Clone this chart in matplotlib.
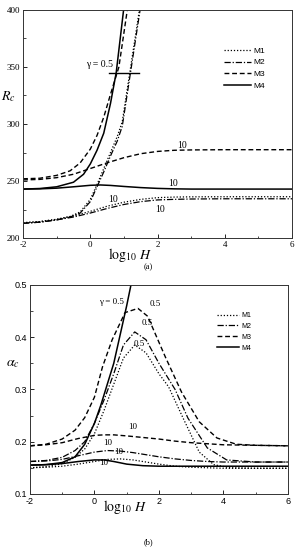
import matplotlib
matplotlib.use("Agg")
import matplotlib.pyplot as plt
from matplotlib.ticker import MultipleLocator

plt.rcParams['axes.unicode_minus'] = False
plt.rcParams['font.family'] = ['Liberation Serif', 'DejaVu Serif']
plt.rcParams['mathtext.fontset'] = 'stix'

# ---- panel (a): Rc vs log10 H ----
a_m4_g05_x = [-2, -1.5, -1, -0.5, -0.2, 0, 0.2, 0.4, 0.6, 0.77, 0.99]
a_m4_g05_y = [243, 243.5, 245, 249, 256, 265, 277, 292, 318, 345, 400]
a_m4_g10_x = [-2, -1.5, -1, -0.5, 0, 0.3, 0.6, 1, 1.5, 2, 2.5, 3, 4, 6]
a_m4_g10_y = [243, 243.2, 243.8, 245, 246.3, 246.6, 246.2, 245.3, 244.3, 243.6, 243.2, 243, 243, 243]

a_m3_g05_x = [-2, -1.5, -1, -0.6, -0.3, 0, 0.2, 0.4, 0.6, 0.85, 1.1]
a_m3_g05_y = [252, 252.5, 255, 259, 266, 278, 290, 306, 326, 350, 400]
a_m3_g10_x = [-2, -1.5, -1, -0.5, 0, 0.5, 1, 1.5, 2, 2.5, 3, 4, 6]
a_m3_g10_y = [251, 251.5, 253, 256, 261, 266, 270.5, 274, 276, 277, 277.3, 277.5, 277.5]

a_m2_g05_x = [-2, -1.5, -1, -0.6, -0.3, 0, 0.2, 0.4, 0.6, 0.8, 0.95, 1.2, 1.48]
a_m2_g05_y = [213, 214, 216, 218.5, 222, 232, 245, 258, 272, 285, 298, 346, 400]
a_m1_g05_x = [-2, -1.5, -1, -0.6, -0.3, 0, 0.2, 0.4, 0.6, 0.8, 0.95, 1.2, 1.46]
a_m1_g05_y = [213.5, 214.5, 216.5, 219, 223, 234, 247, 261, 275, 289, 302, 350, 400]

a_g10_x = [-2, -1.5, -1, -0.5, 0, 0.5, 1, 1.5, 2, 2.5, 3, 4, 6]
a_m2_g10_y = [213, 214, 216, 218.5, 222, 226, 229.5, 232, 233.5, 234, 234.3, 234.5, 234.5]
a_m1_g10_y = [213.5, 214.5, 216.5, 219.5, 223.5, 228, 231.5, 234, 235.5, 236, 236.2, 236.3, 236.3]

# ---- panel (b): alpha_c vs log10 H ----
b_m4_g05_x = [-2, -1.5, -1, -0.6, -0.3, 0, 0.2, 0.4, 0.6, 0.8, 1.0, 1.15]
b_m4_g05_y = [0.155, 0.156, 0.16, 0.171, 0.195, 0.235, 0.27, 0.31, 0.35, 0.405, 0.46, 0.505]
b_m4_g10_x = [-2, -1.5, -1, -0.5, 0, 0.3, 0.6, 1, 1.5, 2, 3, 4, 6]
b_m4_g10_y = [0.155, 0.156, 0.158, 0.162, 0.165, 0.165, 0.162, 0.157, 0.154, 0.153, 0.153, 0.153, 0.153]

b_m3_g05_x = [-2, -1.5, -1, -0.6, -0.3, 0, 0.25, 0.55, 0.95, 1.35, 1.65, 2.2, 2.7, 3.25, 3.8, 4.4, 5, 6]
b_m3_g05_y = [0.192, 0.195, 0.205, 0.222, 0.246, 0.285, 0.343, 0.395, 0.447, 0.455, 0.44, 0.362, 0.295,
              0.238, 0.207, 0.195, 0.193, 0.192]
b_m3_g10_x = [-2, -1.5, -1, -0.5, 0, 0.3, 0.6, 1, 1.5, 2, 2.5, 3, 4, 5, 6]
b_m3_g10_y = [0.192, 0.194, 0.198, 0.206, 0.212, 0.213, 0.213, 0.211, 0.208, 0.205, 0.201, 0.198, 0.194,
              0.193, 0.192]

b_m2_g05_x = [-2, -1.5, -1, -0.6, -0.3, 0, 0.3, 0.6, 0.9, 1.25, 1.6, 2.0, 2.5, 2.9, 3.5, 4.1, 5, 6]
b_m2_g05_y = [0.162, 0.164, 0.17, 0.183, 0.2, 0.235, 0.28, 0.33, 0.385, 0.41, 0.395, 0.35, 0.3, 0.245,
              0.188, 0.165, 0.161, 0.161]
b_m2_g10_x = [-2, -1.5, -1, -0.5, 0, 0.4, 0.8, 1.2, 1.6, 2, 2.5, 3, 3.5, 4, 6]
b_m2_g10_y = [0.162, 0.163, 0.166, 0.173, 0.18, 0.183, 0.182, 0.179, 0.175, 0.171, 0.167, 0.164, 0.162,
              0.161, 0.161]

b_m1_g05_x = [-2, -1.5, -1, -0.6, -0.3, 0, 0.3, 0.6, 0.9, 1.25, 1.6, 2.0, 2.3, 2.75, 3.25, 3.7, 4.2, 5, 6]
b_m1_g05_y = [0.15, 0.152, 0.158, 0.17, 0.186, 0.215, 0.26, 0.31, 0.36, 0.385, 0.37, 0.33, 0.305, 0.245,
              0.18, 0.156, 0.15, 0.149, 0.149]
b_m1_g10_x = [-2, -1.5, -1, -0.5, 0, 0.4, 0.8, 1.2, 1.6, 2, 2.5, 3, 4, 6]
b_m1_g10_y = [0.15, 0.151, 0.153, 0.157, 0.162, 0.166, 0.167, 0.165, 0.161, 0.157, 0.153, 0.151, 0.149, 0.149]

legend_labels = ['M1', 'M2', 'M3', 'M4']
styles = {'M1': dict(ls=(0, (1, 1.5)), lw=0.9), 'M2': dict(ls=(0, (5, 1.5, 1, 1.5)), lw=0.9),
          'M3': dict(ls=(0, (3.5, 2)), lw=1.0), 'M4': dict(ls='-', lw=1.1)}

fig = plt.figure(figsize=(2.99, 5.5), dpi=100)
ax1 = fig.add_axes([0.077, 0.567, 0.9, 0.415])
ax2 = fig.add_axes([0.100, 0.102, 0.863, 0.380])


def style_axes(ax, tickfont):
    ax.tick_params(which='both', direction='in', top=False, right=False, labelsize=6.5, pad=2)
    ax.tick_params(which='major', length=3, width=0.6)
    ax.tick_params(which='minor', length=1.8, width=0.5)
    for lab in ax.get_xticklabels() + ax.get_yticklabels():
        lab.set_family(tickfont)
    for sp in ax.spines.values():
        sp.set_linewidth(0.7)
        sp.set_color('#333333')


# panel (a)
ax1.plot(a_m1_g05_x, a_m1_g05_y, color='k', **styles['M1'], label='M1')
ax1.plot(a_m2_g05_x, a_m2_g05_y, color='k', **styles['M2'], label='M2')
ax1.plot(a_m3_g05_x, a_m3_g05_y, color='k', **styles['M3'], label='M3')
ax1.plot(a_m4_g05_x, a_m4_g05_y, color='k', **styles['M4'], label='M4')
ax1.plot(a_g10_x, a_m1_g10_y, color='k', **styles['M1'])
ax1.plot(a_g10_x, a_m2_g10_y, color='k', **styles['M2'])
ax1.plot(a_m3_g10_x, a_m3_g10_y, color='k', **styles['M3'])
ax1.plot(a_m4_g10_x, a_m4_g10_y, color='k', **styles['M4'])
ax1.plot([0.56, 1.45], [345, 345], color='k', lw=1.0)
ax1.set_xlim(-2, 6)
ax1.set_ylim(200, 400)
ax1.xaxis.set_major_locator(MultipleLocator(2))
ax1.xaxis.set_minor_locator(MultipleLocator(1))
ax1.yaxis.set_major_locator(MultipleLocator(50))
ax1.yaxis.set_minor_locator(MultipleLocator(25))
style_axes(ax1, 'Liberation Serif')
ax1.text(0.27, 352, 'γ = 0.5', fontsize=7, ha='center', va='center')
for tx, ty in [(2.73, 281.5), (2.46, 247.5), (0.68, 234), (2.08, 225)]:
    ax1.text(tx, ty, '10', fontsize=7, ha='center', va='center')
leg1 = ax1.legend(loc='upper left', bbox_to_anchor=(0.72, 0.87), frameon=False, handlelength=3.2,
                  handletextpad=0.3, labelspacing=0.45, prop={'family': 'Liberation Sans', 'size': 6})
fig.text(8 / 299, 1 - 97 / 550, '$R_c$', fontsize=10, ha='center', va='center')
fig.text(130 / 299, 1 - 255 / 550, r'$\log_{10}\,H$', fontsize=10, ha='center', va='center')
fig.text(148 / 299, 1 - 267 / 550, '(a)', fontsize=6, ha='center', va='center')

# panel (b)
ax2.plot(b_m1_g05_x, b_m1_g05_y, color='k', **styles['M1'], label='M1')
ax2.plot(b_m2_g05_x, b_m2_g05_y, color='k', **styles['M2'], label='M2')
ax2.plot(b_m3_g05_x, b_m3_g05_y, color='k', **styles['M3'], label='M3')
ax2.plot(b_m4_g05_x, b_m4_g05_y, color='k', **styles['M4'], label='M4')
ax2.plot(b_m1_g10_x, b_m1_g10_y, color='k', **styles['M1'])
ax2.plot(b_m2_g10_x, b_m2_g10_y, color='k', **styles['M2'])
ax2.plot(b_m3_g10_x, b_m3_g10_y, color='k', **styles['M3'])
ax2.plot(b_m4_g10_x, b_m4_g10_y, color='k', **styles['M4'])
ax2.set_xlim(-2, 6)
ax2.set_ylim(0.1, 0.5)
ax2.xaxis.set_major_locator(MultipleLocator(2))
ax2.xaxis.set_minor_locator(MultipleLocator(1))
ax2.yaxis.set_major_locator(MultipleLocator(0.1))
ax2.yaxis.set_minor_locator(MultipleLocator(0.05))
style_axes(ax2, 'Liberation Sans')
ax2.text(0.53, 0.468, 'γ = 0.5', fontsize=6.5, ha='center', va='center')
for tx, ty in [(1.88, 0.464), (1.63, 0.428), (1.38, 0.387)]:
    ax2.text(tx, ty, '0.5', fontsize=6.5, ha='center', va='center')
for tx, ty in [(1.2, 0.228), (0.42, 0.198), (0.76, 0.18), (0.29, 0.16)]:
    ax2.text(tx, ty, '10', fontsize=6.5, ha='center', va='center')
leg2 = ax2.legend(loc='upper left', bbox_to_anchor=(0.70, 0.90), frameon=False, handlelength=3.2,
                  handletextpad=0.3, labelspacing=0.55, prop={'family': 'Liberation Sans', 'size': 5})
fig.text(13 / 299, 1 - 363 / 550, r'$\alpha_c$', fontsize=10, ha='center', va='center')
fig.text(125 / 299, 1 - 507 / 550, r'$\log_{10}\,H$', fontsize=10, ha='center', va='center')
fig.text(148 / 299, 1 - 542 / 550, '(b)', fontsize=6, ha='center', va='center')

fig.savefig('out.png', dpi=100)
